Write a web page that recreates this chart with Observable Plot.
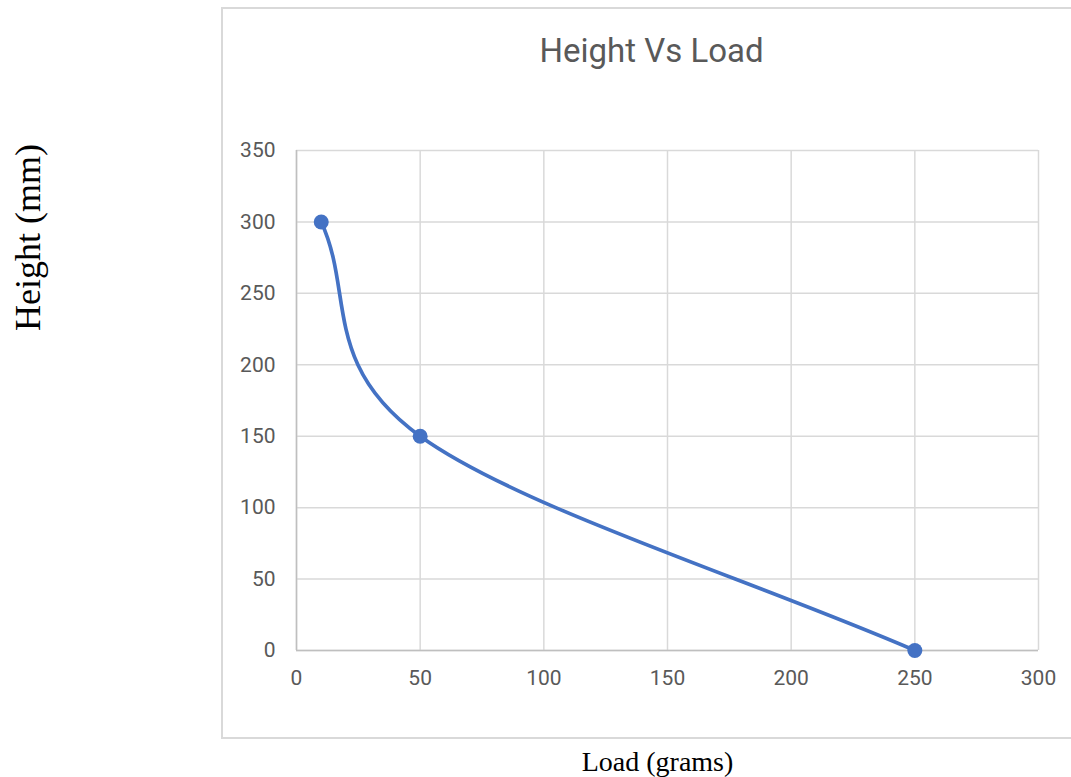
<!DOCTYPE html>
<html>
<head>
<meta charset="utf-8">
<script src="https://cdn.jsdelivr.net/npm/d3@7"></script>
<script src="https://cdn.jsdelivr.net/npm/@observablehq/plot@0.6"></script>
<style>
  html, body { margin: 0; padding: 0; background: #fff; overflow: hidden; }
  #wrap { position: relative; width: 1071px; height: 777px; }
  #box { position: absolute; left: 221px; top: 7px; width: 900px; height: 732px;
         border: 2px solid #d9d9d9; box-sizing: border-box; }
  #chart { position: absolute; left: 0; top: 0; }
</style>
</head>
<body>
<div id="wrap"><div id="box"></div><div id="chart"></div></div>
<script>
const title = "Height Vs Load";
const xLabel = "Load (grams)";
const yLabel = "Height (mm)";
const loads = [10, 50, 250];
const heights = [300, 150, 0];
const xTicks = [0, 50, 100, 150, 200, 250, 300];
const yTicks = [0, 50, 100, 150, 200, 250, 300, 350];

const data = loads.map((x, i) => ({load: x, height: heights[i]}));
const blue = "#4472C4";

// Spreadsheet-style smoothed line (Bezier segments, cardinal interior tangents)
function smoothCurve(context) {
  let pts = [];
  return {
    areaStart() {}, areaEnd() {},
    lineStart() { pts = []; },
    point(x, y) { pts.push([+x, +y]); },
    lineEnd() {
      const n = pts.length;
      if (!n) return;
      context.moveTo(pts[0][0], pts[0][1]);
      if (n === 2) { context.lineTo(pts[1][0], pts[1][1]); return; }
      for (let i = 0; i < n - 1; i++) {
        const a = pts[i], b = pts[i + 1];
        const c1 = i === 0
          ? [a[0] + (b[0] - a[0]) / 3, a[1] + (b[1] - a[1]) / 3]
          : [a[0] + (b[0] - pts[i - 1][0]) / 6, a[1] + (b[1] - pts[i - 1][1]) / 6];
        const c2 = i === n - 2
          ? [b[0] - (b[0] - a[0]) / 3, b[1] - (b[1] - a[1]) / 3]
          : [b[0] - (pts[i + 2][0] - a[0]) / 6, b[1] - (pts[i + 2][1] - a[1]) / 6];
        context.bezierCurveTo(c1[0], c1[1], c2[0], c2[1], b[0], b[1]);
      }
    }
  };
}

const plot = Plot.plot({
  width: 1071,
  height: 777,
  marginLeft: 296,
  marginRight: 33,
  marginTop: 150,
  marginBottom: 127,
  style: {background: "transparent", overflow: "visible"},
  x: {domain: [0, 300], ticks: xTicks, label: null},
  y: {domain: [0, 350], ticks: yTicks, label: null},
  marks: [
    Plot.gridX(xTicks, {stroke: "#d9d9d9", strokeOpacity: 1, strokeWidth: 1.5}),
    Plot.gridY(yTicks, {stroke: "#d9d9d9", strokeOpacity: 1, strokeWidth: 1.5}),
    Plot.ruleX([0], {stroke: "#bfbfbf", strokeWidth: 1.5}),
    Plot.ruleY([0], {stroke: "#bfbfbf", strokeWidth: 1.5}),
    Plot.axisX(xTicks, {tickSize: 0, tickPadding: 20, fontSize: 21, fill: "#595959",
      fontFamily: "Roboto", label: null}),
    Plot.axisY(yTicks, {tickSize: 0, tickPadding: 21, fontSize: 21, fill: "#595959",
      fontFamily: "Roboto", label: null}),
    Plot.line(data, {x: "load", y: "height", stroke: blue, strokeWidth: 3.7, curve: smoothCurve}),
    Plot.dot(data, {x: "load", y: "height", fill: blue, r: 7.5}),
    Plot.text([title], {frameAnchor: "top-left", dx: 355, dy: -99, text: d => d,
      fontSize: 33, fill: "#595959", fontFamily: "Roboto", textAnchor: "middle", lineAnchor: "middle"}),
    Plot.text([xLabel], {frameAnchor: "bottom-left", dx: 361, dy: 112, text: d => d,
      fontSize: 28, fill: "#000", fontFamily: "Liberation Serif", textAnchor: "middle", lineAnchor: "middle"}),
    Plot.text([yLabel], {frameAnchor: "top-left", dx: -268, dy: 87, rotate: -90, text: d => d,
      fontSize: 36, fill: "#000", fontFamily: "Liberation Serif", textAnchor: "middle", lineAnchor: "middle"})
  ]
});
document.getElementById("chart").appendChild(plot);
</script>
</body>
</html>
